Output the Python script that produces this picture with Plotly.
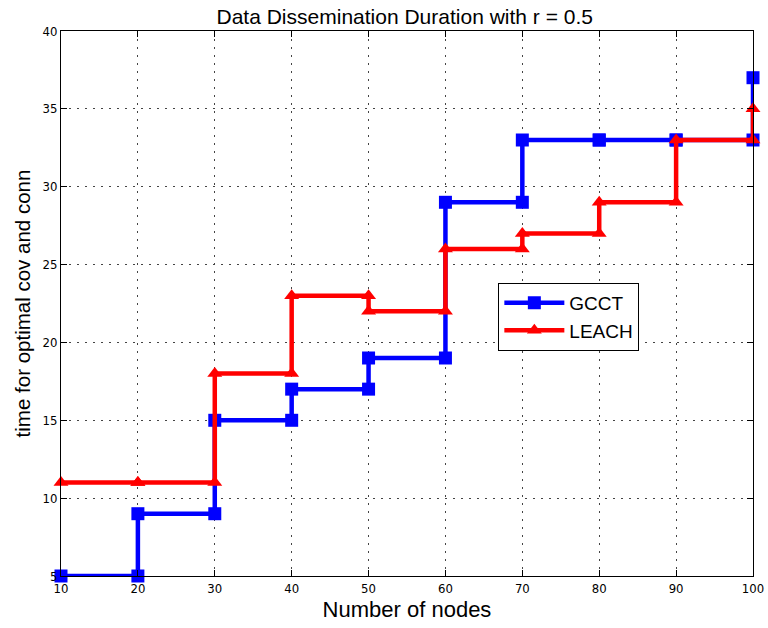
import plotly.graph_objects as go

nodes = [10, 20, 30, 40, 50, 60, 70, 80, 90, 100]
gcct = [5, 9, 15, 17, 19, 29, 33, 33, 33, 37]
leach = [11, 11, 18, 23, 22, 26, 27, 29, 33, 35]
x_ticks = [10, 20, 30, 40, 50, 60, 70, 80, 90, 100]
y_ticks = [5, 10, 15, 20, 25, 30, 35, 40]


def stairs(x, y):
    xs, ys = [x[0]], [y[0]]
    for i in range(1, len(x)):
        xs += [x[i], x[i]]
        ys += [y[i - 1], y[i]]
    return xs, ys


fig = go.Figure()
gx, gy = stairs(nodes, gcct)
lx, ly = stairs(nodes, leach)
fig.add_trace(go.Scatter(x=gx, y=gy, mode="lines+markers", name="GCCT", cliponaxis=False,
                         line=dict(color="#0000ff", width=4.5),
                         marker=dict(symbol="square", size=13, color="#0000ff")))
fig.add_trace(go.Scatter(x=lx, y=ly, mode="lines+markers", name="LEACH", cliponaxis=False,
                         line=dict(color="#ff0000", width=4.5),
                         marker=dict(symbol="triangle-up", size=13, color="#ff0000")))

axis_common = dict(showline=True, linecolor="black", linewidth=1, mirror="ticks",
                   ticks="inside", ticklen=6, tickcolor="black",
                   showgrid=True, gridcolor="#444444", griddash="2px,6px", gridwidth=1,
                   zeroline=False, automargin=False,
                   tickfont=dict(family="DejaVu Sans Condensed, Liberation Sans Narrow, Arial",
                                 size=13, color="black"))

fig.update_layout(
    width=768, height=628,
    margin=dict(l=61, r=15, t=31, b=52, autoexpand=False),
    paper_bgcolor="white", plot_bgcolor="white",
    title=dict(text="Data Dissemination Duration with r = 0.5", x=0.527, xanchor="center",
               y=0.973, yanchor="middle",
               font=dict(family="Arial", size=21, color="black")),
    xaxis=dict(range=[10, 100], tickvals=x_ticks, ticktext=[str(v) for v in x_ticks],
               title=dict(text="Number of nodes", standoff=7,
                          font=dict(family="Arial", size=22, color="black")),
               **axis_common),
    yaxis=dict(range=[5, 40], tickvals=y_ticks, ticktext=[str(v) for v in y_ticks],
               title=dict(text="time for optimal cov and conn", standoff=6,
                          font=dict(family="Arial", size=20.5, color="black")),
               **axis_common),
    legend=dict(x=0.632, y=0.538, xanchor="left", yanchor="top",
                bgcolor="white", bordercolor="black", borderwidth=1,
                font=dict(family="Arial", size=19, color="black"),
                itemwidth=60),
    showlegend=True,
)

fig.write_html("out.html")
